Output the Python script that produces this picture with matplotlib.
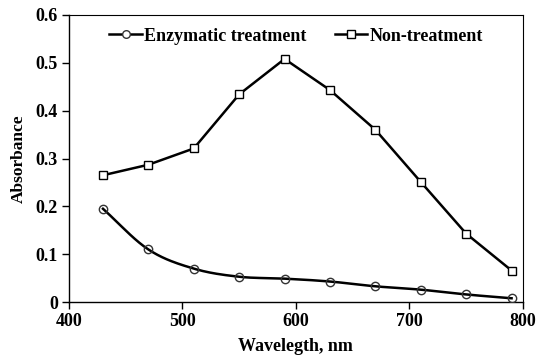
import numpy as np
import matplotlib
matplotlib.use("Agg")
import matplotlib.pyplot as plt
from matplotlib.lines import Line2D

wavelength = [430, 470, 510, 550, 590, 630, 670, 710, 750, 790]
enzymatic = [0.195, 0.110, 0.070, 0.053, 0.049, 0.043, 0.033, 0.026, 0.016, 0.008]
non_treatment = [0.265, 0.287, 0.321, 0.434, 0.508, 0.443, 0.360, 0.251, 0.143, 0.066]
x_ticks = [400, 500, 600, 700, 800]
y_ticks = [0, 0.1, 0.2, 0.3, 0.4, 0.5, 0.6]


def smooth_curve(x, y, n=20):
    """Catmull-Rom spline through the points (spreadsheet-style smoothed line)."""
    x = np.asarray(x, float)
    y = np.asarray(y, float)
    px = np.concatenate([[2 * x[0] - x[1]], x, [2 * x[-1] - x[-2]]])
    py = np.concatenate([[2 * y[0] - y[1]], y, [2 * y[-1] - y[-2]]])
    xs, ys = [], []
    t = np.linspace(0, 1, n, endpoint=False)
    for i in range(1, len(px) - 2):
        for arr, out in ((px, xs), (py, ys)):
            p0, p1, p2, p3 = arr[i - 1], arr[i], arr[i + 1], arr[i + 2]
            out.extend(0.5 * (2 * p1 + (-p0 + p2) * t
                              + (2 * p0 - 5 * p1 + 4 * p2 - p3) * t ** 2
                              + (-p0 + 3 * p1 - 3 * p2 + p3) * t ** 3))
    xs.append(x[-1])
    ys.append(y[-1])
    return np.array(xs), np.array(ys)


plt.rcParams['font.family'] = ['Liberation Serif', 'DejaVu Serif']
plt.rcParams['font.weight'] = 'bold'

fig = plt.figure(figsize=(5.47, 3.55), dpi=100)
ax = fig.add_axes([0.126, 0.149, 0.830, 0.809])

sx, sy = smooth_curve(wavelength, enzymatic)
ax.plot(sx, sy, color='black', lw=1.8, zorder=2)
ax.plot(wavelength, enzymatic, ls='none', marker='o', ms=6, mfc='none',
        mec='#333333', mew=1.0, zorder=3)
ax.plot(wavelength, non_treatment, color='black', lw=1.8, marker='s', ms=6,
        mfc='white', mec='black', mew=1.0, zorder=3)

ax.set_xlim(400, 800)
ax.set_ylim(0, 0.6)
ax.set_xticks(x_ticks)
ax.set_yticks(y_ticks)
ax.set_xticklabels([str(v) for v in x_ticks])
ax.set_yticklabels(['0'] + [f'{v:.1f}' for v in y_ticks[1:]])
ax.tick_params(direction='out', length=5, width=1, labelsize=13, pad=3)
for lab in ax.get_xticklabels() + ax.get_yticklabels():
    lab.set_fontweight('bold')
for s in ax.spines.values():
    s.set_linewidth(1.0)
ax.spines['top'].set_linewidth(0.8)
ax.spines['right'].set_linewidth(0.8)

ax.set_xlabel('Wavelegth, nm', fontsize=13, fontweight='bold', labelpad=5.5)
ax.set_ylabel('Absorbance', fontsize=12.5, fontweight='bold', labelpad=6)

handles = [
    Line2D([], [], color='black', lw=1.8, marker='o', ms=5.5, mfc='white', mec='#333333', mew=1.0),
    Line2D([], [], color='black', lw=1.8, marker='s', ms=5.5, mfc='white', mec='black', mew=1.0),
]
ax.legend(handles, ['Enzymatic treatment', 'Non-treatment'], loc='upper center',
          bbox_to_anchor=(0.5, 1.0), ncol=2, frameon=False, handlelength=1.8,
          handletextpad=0.1, columnspacing=1.6, borderaxespad=0.3,
          prop={'family': 'Liberation Serif', 'weight': 'bold', 'size': 13})

fig.savefig('out.png', dpi=100)
